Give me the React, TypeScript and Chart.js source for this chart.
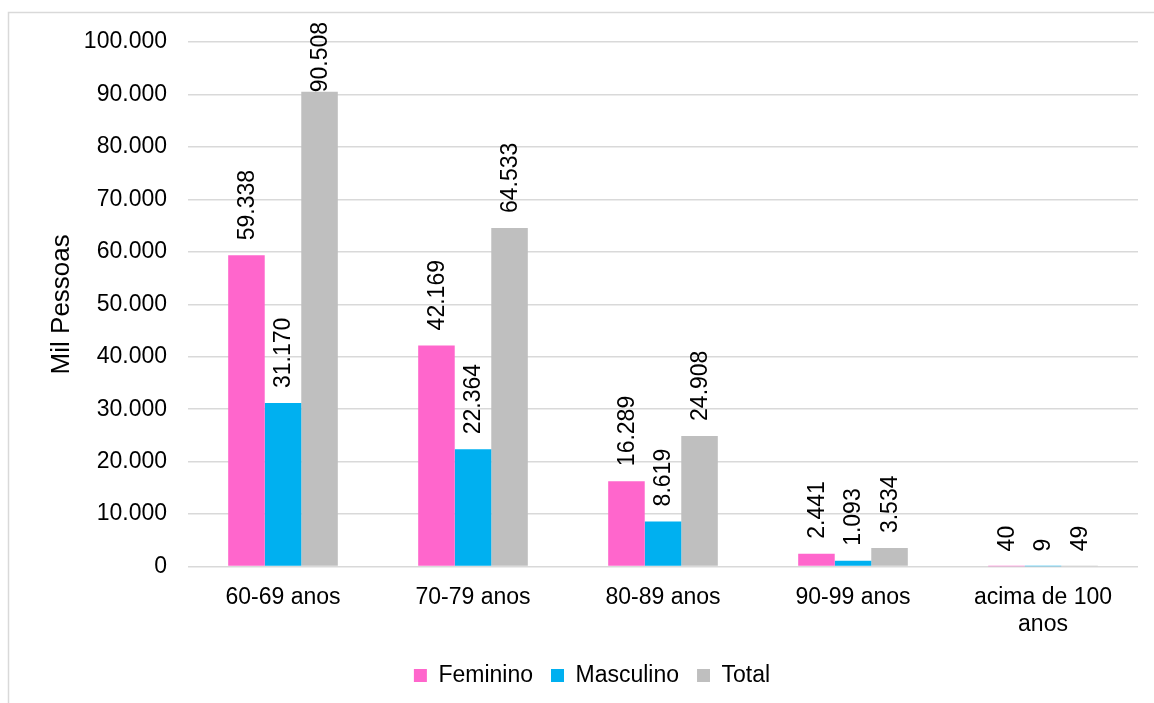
import React, { useEffect, useRef } from "react";
import { Chart, registerables } from "chart.js";

Chart.register(...registerables);

const categories: (string | string[])[] = [
  "60-69 anos",
  "70-79 anos",
  "80-89 anos",
  "90-99 anos",
  ["acima de 100", "anos"],
];
const feminino = [59338, 42169, 16289, 2441, 40];
const masculino = [31170, 22364, 8619, 1093, 9];
const total = [90508, 64533, 24908, 3534, 49];
const seriesNames = ["Feminino", "Masculino", "Total"];
const seriesColors = ["#FF66CC", "#00B0F0", "#BFBFBF"];
const yTitle = "Mil Pessoas";

const FONT = "'Liberation Sans', Arial, sans-serif";

function fmt(v: number): string {
  const s = Math.round(v).toString();
  return s.replace(/\B(?=(\d{3})+(?!\d))/g, ".");
}

const framePlugin = {
  id: "frame",
  beforeDraw(chart: any) {
    const ctx = chart.ctx;
    ctx.save();
    ctx.strokeStyle = "#D9D9D9";
    ctx.lineWidth = 1.5;
    ctx.strokeRect(8.5, 12.5, chart.width + 20, chart.height + 20);
    ctx.restore();
  },
};

const labelPlugin = {
  id: "barLabels",
  afterDatasetsDraw(chart: any) {
    const ctx = chart.ctx;
    ctx.save();
    ctx.font = `23px ${FONT}`;
    ctx.fillStyle = "#000000";
    ctx.textAlign = "left";
    ctx.textBaseline = "middle";
    chart.data.datasets.forEach((ds: any, di: number) => {
      const meta = chart.getDatasetMeta(di);
      meta.data.forEach((el: any, i: number) => {
        const text = fmt(ds.data[i]);
        const w = ctx.measureText(text).width;
        let start = el.y - 15;
        if (start - w < 22) start = 22 + w;
        ctx.save();
        ctx.translate(el.x, start);
        ctx.rotate(-Math.PI / 2);
        ctx.fillText(text, 0, 1);
        ctx.restore();
      });
    });
    ctx.restore();
  },
};

export default function App() {
  const ref = useRef<HTMLCanvasElement | null>(null);
  useEffect(() => {
    if (!ref.current) return;
    const seriesData = [feminino, masculino, total];
    const chart = new Chart(ref.current, {
      type: "bar",
      data: {
        labels: categories,
        datasets: seriesNames.map((name, i) => ({
          label: name,
          data: seriesData[i],
          backgroundColor: seriesColors[i],
          borderWidth: 0,
          categoryPercentage: 0.577,
          barPercentage: 1,
        })),
      },
      options: {
        responsive: false,
        animation: false,
        layout: { padding: { left: 46, right: 16, top: 42, bottom: 6 } },
        plugins: {
          legend: {
            position: "bottom",
            labels: {
              boxWidth: 13,
              boxHeight: 13,
              padding: 18,
              color: "#000000",
              font: { family: FONT, size: 23 },
            },
          },
          tooltip: { enabled: false },
        },
        scales: {
          x: {
            grid: { display: false, drawTicks: false },
            border: { display: false },
            ticks: {
              color: "#000000",
              font: { family: FONT, size: 23 },
              padding: 17,
              maxRotation: 0,
              autoSkip: false,
            },
            afterFit(scale: any) {
              scale.height = 79.4;
            },
          },
          y: {
            min: 0,
            max: 100000,
            grid: { color: "#D9D9D9", lineWidth: 1.5, drawTicks: false },
            border: { display: false },
            ticks: {
              stepSize: 10000,
              color: "#000000",
              font: { family: FONT, size: 23 },
              padding: 21,
              callback: (v: any) => fmt(Number(v)),
            },
            title: {
              display: true,
              text: yTitle,
              color: "#000000",
              font: { family: FONT, size: 26 },
              padding: 0,
            },
            afterFit(scale: any) {
              scale.width = 142;
            },
          },
        },
      },
      plugins: [framePlugin, labelPlugin],
    });
    return () => chart.destroy();
  }, []);
  return (
    <div style={{ position: "fixed", left: 0, top: 0, width: 1154, height: 703, background: "#fff" }}>
      <canvas ref={ref} width={1154} height={703} style={{ display: "block" }} />
    </div>
  );
}
